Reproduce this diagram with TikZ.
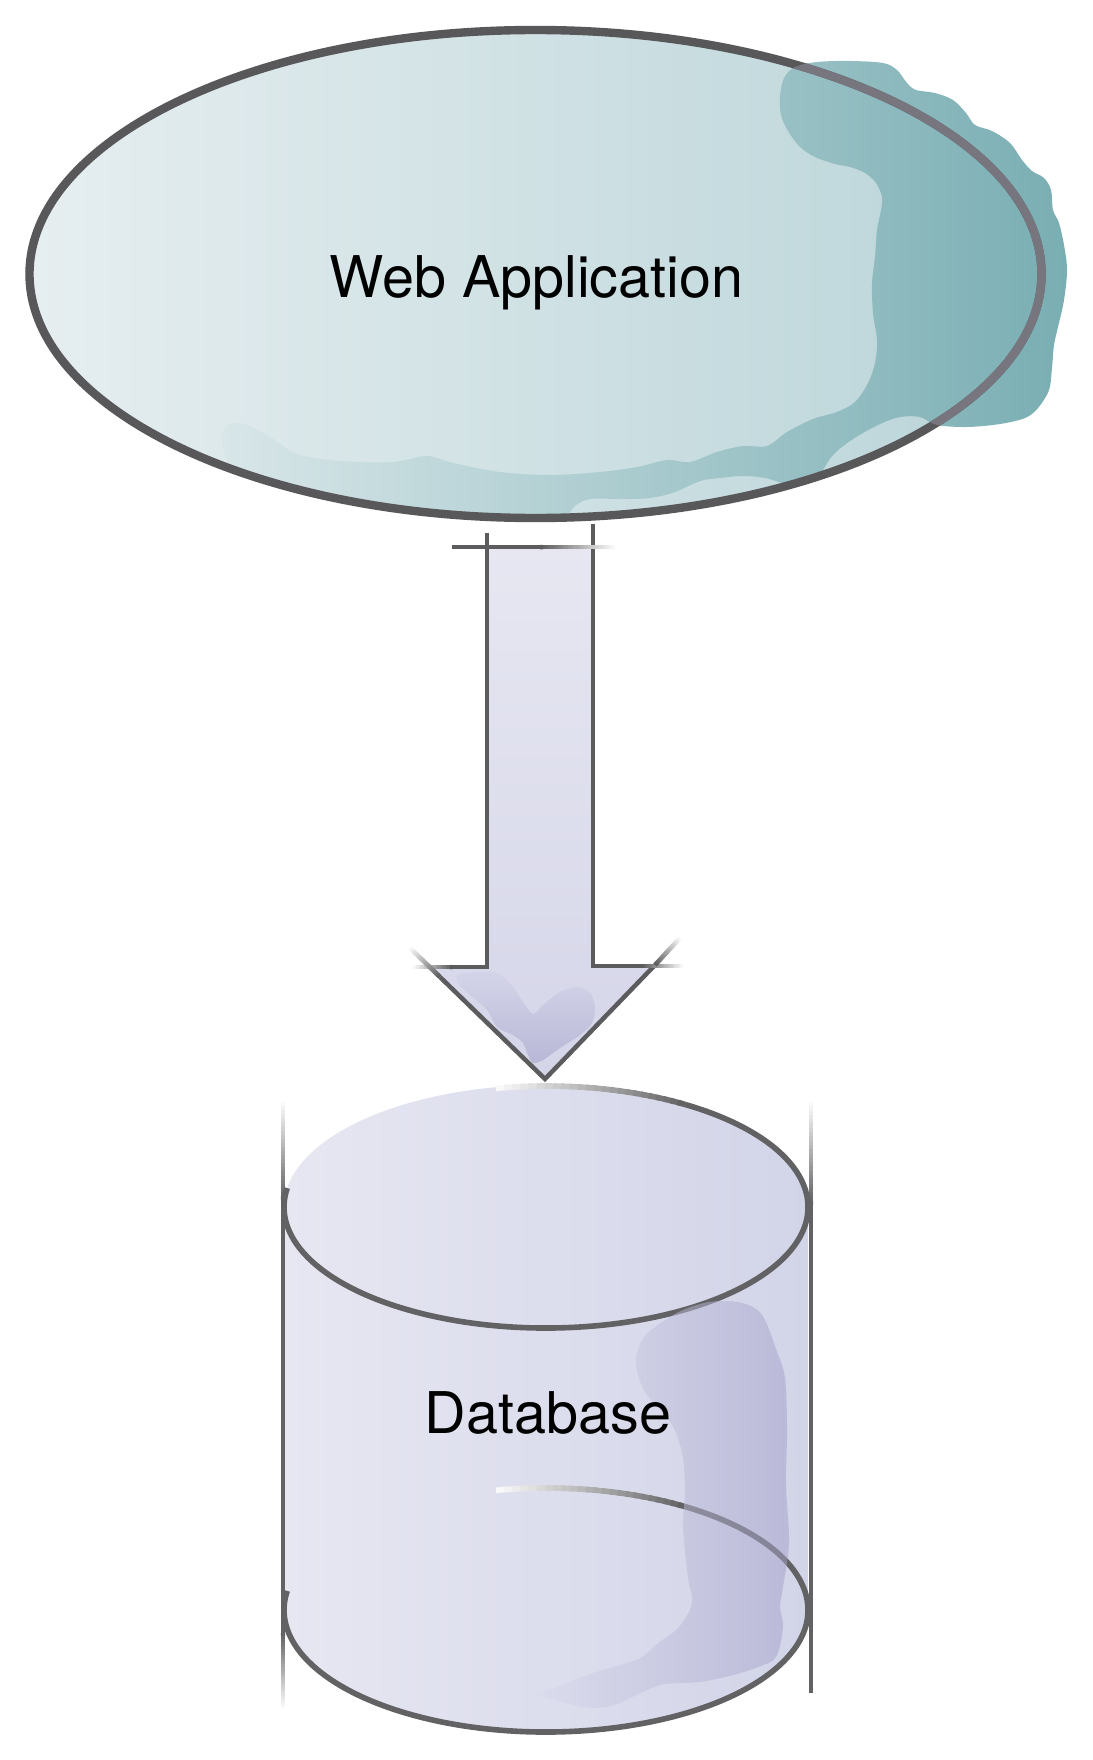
\documentclass[tikz,border=0pt]{standalone}
\usepackage{fontspec}
\setmainfont{TeX Gyre Heros}
\usetikzlibrary{calc}

% palette
\definecolor{webfillL}{HTML}{E6EEF0}
\definecolor{webfillR}{HTML}{B9D4D8}
\definecolor{cloudL}{HTML}{D8E6E8}
\definecolor{cloudR}{HTML}{79AEB3}
\definecolor{webline}{HTML}{58585A}
\definecolor{weblinesoft}{HTML}{77767F}
\definecolor{arrowT}{HTML}{E7E7F2}
\definecolor{arrowB}{HTML}{D4D5E8}
\definecolor{arrblobT}{HTML}{D4D4E9}
\definecolor{arrblobB}{HTML}{B8B8D7}
\definecolor{arrowline}{HTML}{5C5C5E}
\definecolor{cylL}{HTML}{E7E7F2}
\definecolor{cylR}{HTML}{D2D4E8}
\definecolor{cylblobL}{HTML}{DBDBED}
\definecolor{cylblobR}{HTML}{A3A1CA}
\definecolor{cylline}{HTML}{626264}

% straight stroke whose colour runs from white (#2) to #1 (#3)
\newcommand\fadeline[3]{%
  \foreach \segk in {1,...,24}{%
    \pgfmathsetmacro\fracA{(\segk-1)/24}%
    \pgfmathsetmacro\fracB{min(1,(\segk+0.5)/24)}%
    \pgfmathtruncatemacro\mixpct{100*\segk/24}%
    \draw[draw=#1!\mixpct!white, line cap=butt] ($(#2)!\fracA!(#3)$) -- ($(#2)!\fracB!(#3)$);
  }}

% elliptical stroke: colour #1, centre #2, radii #3/#4, white at angle #5, full colour at #6
\newcommand\fadearc[6]{%
  \foreach \segk in {1,...,24}{%
    \pgfmathsetmacro\angA{#5+(#6-(#5))*(\segk-1)/24}%
    \pgfmathsetmacro\angB{#5+(#6-(#5))*min(1,(\segk+0.5)/24)}%
    \pgfmathtruncatemacro\mixpct{100*\segk/24}%
    \draw[draw=#1!\mixpct!white, line cap=butt] ($(#2)+(\angA:#3 and #4)$)
      arc[start angle=\angA, end angle=\angB, x radius=#3, y radius=#4];
  }}

% the teal wash over the right of the application oval
\newcommand\cloudshape{plot[smooth cycle, tension=0.55] coordinates {
 (232,469) (223,447) (224,429) (240,423) (267,435) (297,454) (340,461) (393,462)
 (427,456) (453,463) (500,472) (550,475) (600,472) (637,467) (667,460) (690,462)
 (717,452) (743,446) (767,446) (787,432) (813,419) (837,412) (855,402) (868,383)
 (875,363) (877,340) (873,313) (872,283) (875,257) (877,230) (881,210) (882,197)
 (876,183) (865,173) (850,167) (835,164) (815,157) (800,147) (788,131) (781,115)
 (780,97) (784,78) (795,67) (817,62) (850,61) (883,63) (897,70) (907,83)
 (916,90) (935,93) (953,100) (966,113) (975,125) (992,131) (1010,143) (1022,160)
 (1032,171) (1044,178) (1051,190) (1053,210) (1059,223) (1064,245) (1067,270)
 (1064,300) (1058,327) (1054,345) (1052,368) (1049,390) (1038,408) (1025,418)
 (1000,424) (967,427) (937,425) (920,417) (900,417) (880,424) (853,439) (833,455)
 (818,476) (800,482) (787,484) (765,478) (743,476) (720,478) (700,481) (675,492)
 (650,498) (620,499) (590,499) (575,506) (565,517) (540,518) (500,517) (450,514)
 (400,509) (350,501) (300,490) (260,479)}}

\tikzset{
  webedge/.style={draw=webline, line width=4.2pt},
  arrowedge/.style={line width=2.25pt, line cap=butt, line join=miter},
  cyledge/.style={draw=cylline, line width=2.8pt, line cap=butt},
  cylrule/.style={line width=2.2pt, line cap=butt},
  captiontext/.style={font=\fontsize{28.75}{34}\selectfont, text=black, anchor=base, inner sep=0pt},
}

\begin{document}
\begin{tikzpicture}[x=0.5pt, y=-0.5pt]
\useasboundingbox (0,0) rectangle (1092,1760);

% ---------- Web application oval ----------
\coordinate (wc) at (535.5,274);
\shade[left color=webfillL, right color=webfillR] (wc) ellipse[x radius=506, y radius=244];
\shade[left color=cloudL, right color=cloudR] \cloudshape;
\draw[webedge] (wc) ellipse[x radius=506, y radius=244];
\begin{scope}
  \clip (760,0) rectangle (1092,430);
  \clip \cloudshape;
  \draw[webedge, draw=weblinesoft] (wc) ellipse[x radius=506, y radius=244];
\end{scope}
\node[captiontext] (web) at (536.5,297) {Web Application};

% ---------- Block arrow ----------
\coordinate (shaftLtop) at (487,533);
\coordinate (shaftRtop) at (593,524);
\coordinate (cornerL) at (487,967);
\coordinate (cornerR) at (593,966);
\coordinate (tip) at (545,1079);
\coordinate (tickA) at (452,547);
\coordinate (tickB) at (540,547);
\coordinate (tickC) at (615,547);
\coordinate (barbLdark) at (452,967);
\coordinate (barbLend) at (413,967);
\coordinate (barbRdark) at (642,966);
\coordinate (barbRend) at (683,966);
\coordinate (diagLdark) at (440,977);
\coordinate (diagLend) at (410,948);
\coordinate (diagRdark) at (655,965);
\coordinate (diagRend) at (680,938);

\shade[top color=arrowT, bottom color=arrowB]
  (487,547) -- (593,547) -- (cornerR) -- (652,966) -- (tip) -- (429,967) -- (cornerL) -- cycle;
\shade[top color=arrblobT, bottom color=arrblobB] plot[smooth cycle, tension=0.55] coordinates {
 (458,975) (477,972) (497,973) (513,987) (523,1002) (533,1014) (543,1005) (560,992)
 (577,987) (590,993) (595,1007) (592,1023) (580,1035) (560,1048) (543,1060) (533,1063)
 (528,1055) (523,1043) (513,1035) (497,1027) (487,1010) (467,992) (458,983)};

\begin{scope}[arrowedge]
  \draw[draw=arrowline] (shaftLtop) -- (cornerL) -- (barbLdark);
  \draw[draw=arrowline] (shaftRtop) -- (cornerR) -- (barbRdark);
  \draw[draw=arrowline] (tickA) -- (tickB);
  \draw[draw=arrowline] (diagLdark) -- (tip) -- (diagRdark);
  \fadeline{arrowline}{tickC}{tickB}
  \fadeline{arrowline}{barbLend}{barbLdark}
  \fadeline{arrowline}{barbRend}{barbRdark}
  \fadeline{arrowline}{diagLend}{diagLdark}
  \fadeline{arrowline}{diagRend}{diagRdark}
\end{scope}

% ---------- Database cylinder ----------
\coordinate (topc) at (546,1207);
\coordinate (botc) at (546,1610);
\shade[left color=cylL, right color=cylR]
  (284,1207) -- (284,1610) arc[start angle=180, end angle=0, x radius=262, y radius=122]
  -- (808,1207) arc[start angle=0, end angle=-180, x radius=262, y radius=122] -- cycle;

% side rules
\coordinate (ruleLa) at (283,1102);
\coordinate (ruleLb) at (283,1200);
\coordinate (ruleLc) at (283,1633);
\coordinate (ruleLd) at (283,1708);
\coordinate (ruleRa) at (811,1102);
\coordinate (ruleRb) at (811,1205);
\coordinate (ruleRc) at (811,1693);
\begin{scope}[cylrule]
  \draw[draw=cylline] (ruleLb) -- (ruleLc);
  \draw[draw=cylline] (ruleRb) -- (ruleRc);
  \fadeline{cylline}{ruleLa}{ruleLb}
  \fadeline{cylline}{ruleLd}{ruleLc}
  \fadeline{cylline}{ruleRa}{ruleRb}
\end{scope}

% rims
\begin{scope}[cyledge]
  \draw ($(topc)+(-58:262 and 121)$) arc[start angle=-58, end angle=189, x radius=262, y radius=121];
  \draw ($(botc)+(-58:262 and 122)$) arc[start angle=-58, end angle=189, x radius=262, y radius=122];
  \fadearc{cylline}{topc}{262}{121}{-101}{-58}
  \fadearc{cylline}{botc}{262}{122}{-101}{-58}
\end{scope}

% lavender wash on the right of the body
\shade[left color=cylblobL, right color=cylblobR, opacity=0.5] plot[smooth cycle, tension=0.55] coordinates {
 (729,1301) (751,1306) (764,1318) (776,1349) (785,1378) (787,1430) (786,1485) (789,1543)
 (783,1587) (780,1607) (783,1627) (776,1657) (758,1667) (733,1675) (700,1682) (665,1684)
 (645,1691) (611,1706) (582,1707) (552,1699) (534,1695) (557,1687) (593,1673) (638,1659)
 (658,1643) (679,1627) (692,1603) (688,1578) (683,1527) (685,1490) (682,1453) (671,1423)
 (645,1392) (636,1362) (645,1336) (675,1314) (704,1303)};

\node[captiontext] (db) at (548,1433) {Database};
\end{tikzpicture}
\end{document}
